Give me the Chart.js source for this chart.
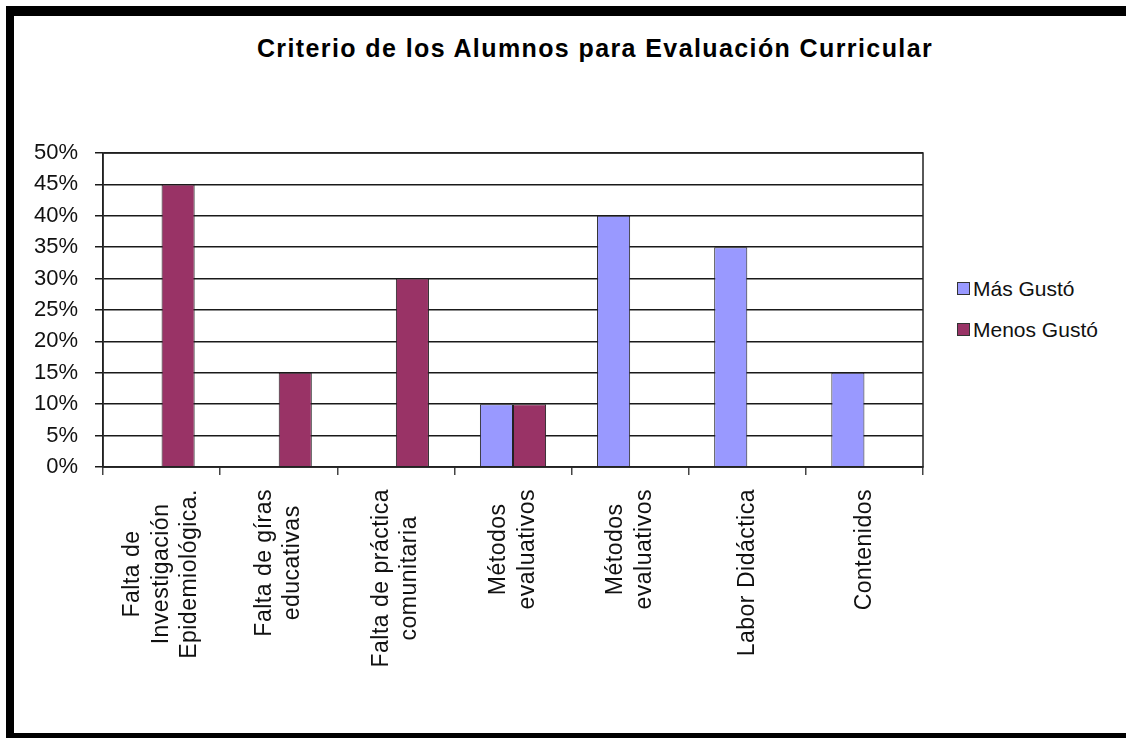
<!DOCTYPE html>
<html>
<head>
<meta charset="utf-8">
<script src="https://cdn.jsdelivr.net/npm/chart.js@4/dist/chart.umd.min.js"></script>
<style>
  body { margin: 0; background: #fff; }
  #wrap { position: relative; width: 1126px; height: 738px; overflow: hidden; }
  #frame { position: absolute; left: 6px; top: 6px; width: 1200px; height: 717px;
           border-top: 10px solid #000; border-left: 8px solid #000; border-bottom: 5px solid #000; }
  #title { position: absolute; left: 0; top: 34px; width: 1190px; text-align: center;
           font: bold 25px "Liberation Sans", Arial, sans-serif; color: #000; letter-spacing: 1.4px; }
  #legend { position: absolute; left: 957px; top: 277px; font: 21px "Liberation Sans", Arial, sans-serif; color: #111; }
  #legend div { height: 41px; line-height: 24px; white-space: nowrap; }
  #legend span.box { display: inline-block; width: 11px; height: 11px; border: 1px solid #333; margin-right: 3px; vertical-align: 1px; }
  canvas { position: absolute; left: 0; top: 0; }
</style>
</head>
<body>
<div id="wrap">
  <div id="frame"></div>
  <div id="title">Criterio de los Alumnos para Evaluación Curricular</div>
  <div id="legend"></div>
  <canvas id="canv" width="1126" height="738"></canvas>
</div>
<script>
var categories = [
  ["Falta de", "Investigación", "Epidemiológica."],
  ["Falta de gíras", "educativas"],
  ["Falta de práctica", "comunitaria"],
  ["Métodos", "evaluativos"],
  ["Métodos", "evaluativos"],
  ["Labor Didáctica"],
  ["Contenidos"]
];
var masGusto = [null, null, null, 10, 40, 35, 15];
var menosGusto = [45, 15, 30, 10, null, null, null];
var seriesNames = ["Más Gustó", "Menos Gustó"];
var seriesColors = ["#9999FF", "#993366"];
var yTicks = [0, 5, 10, 15, 20, 25, 30, 35, 40, 45, 50];

// legend as plain html
var leg = document.getElementById("legend");
for (var i = 0; i < seriesNames.length; i++) {
  leg.innerHTML += "<div><span class='box' style='background:" + seriesColors[i] + "'></span>" + seriesNames[i] + "</div>";
}

// category labels: rotated, lines centered on each other
var catLabels = {
  id: "catLabels",
  afterDraw: function(chart) {
    var ctx = chart.ctx;
    var xs = chart.scales.x;
    ctx.save();
    ctx.font = "23px 'Liberation Sans', Arial, sans-serif";
    ctx.letterSpacing = "0.5px";
    ctx.fillStyle = "#111";
    ctx.textAlign = "center";
    ctx.textBaseline = "middle";
    var lh = 28.5;
    for (var i = 0; i < categories.length; i++) {
      var lines = categories[i];
      var w = 0;
      for (var j = 0; j < lines.length; j++) w = Math.max(w, ctx.measureText(lines[j]).width);
      var x = xs.getPixelForTick(i);
      var cy = 489 + w / 2;
      ctx.save();
      ctx.translate(x, cy);
      ctx.rotate(-Math.PI / 2);
      for (var j = 0; j < lines.length; j++) {
        ctx.fillText(lines[j], 0, (j - (lines.length - 1) / 2) * lh);
      }
      ctx.restore();
    }
    ctx.restore();
  }
};

// plot frame (top and right edges)
var plotFrame = {
  id: "plotFrame",
  afterDatasetsDraw: function(chart) {
    var a = chart.chartArea;
    var ctx = chart.ctx;
    ctx.save();
    ctx.strokeStyle = "#222";
    ctx.lineWidth = 1.5;
    ctx.strokeRect(a.left, a.top, a.right - a.left, a.bottom - a.top);
    ctx.restore();
  }
};

new Chart(document.getElementById("canv"), {
  type: "bar",
  data: {
    labels: categories,
    datasets: [{
      label: seriesNames[0],
      data: masGusto,
      backgroundColor: seriesColors[0],
      borderColor: "#222",
      borderWidth: 1
    }, {
      label: seriesNames[1],
      data: menosGusto,
      backgroundColor: seriesColors[1],
      borderColor: "#222",
      borderWidth: 1
    }]
  },
  options: {
    responsive: false,
    animation: false,
    layout: { padding: { left: 0, right: 203, top: 153, bottom: 261 } },
    datasets: { bar: { categoryPercentage: 0.565, barPercentage: 1.0 } },
    plugins: {
      legend: { display: false },
      title: { display: false },
      tooltip: { enabled: false }
    },
    scales: {
      x: {
        grid: { offset: true, drawOnChartArea: false, drawTicks: true, tickLength: 8, color: "#444", lineWidth: 1.5 },
        border: { color: "#222", width: 1.5 },
        ticks: { display: false },
        afterFit: function(s) { s.height = 10; }
      },
      y: {
        min: 0,
        max: 50,
        afterBuildTicks: function(s) { s.ticks = yTicks.map(function(v) { return { value: v }; }); },
        grid: { color: "#1a1a1a", lineWidth: 1.5, tickLength: 8 },
        border: { color: "#222", width: 1.5 },
        ticks: {
          padding: 17,
          color: "#111",
          font: { family: "'Liberation Sans', Arial, sans-serif", size: 22 },
          callback: function(v) { return v + "%"; }
        },
        afterFit: function(s) { s.width = 103; }
      }
    }
  },
  plugins: [catLabels, plotFrame]
});
</script>
</body>
</html>
